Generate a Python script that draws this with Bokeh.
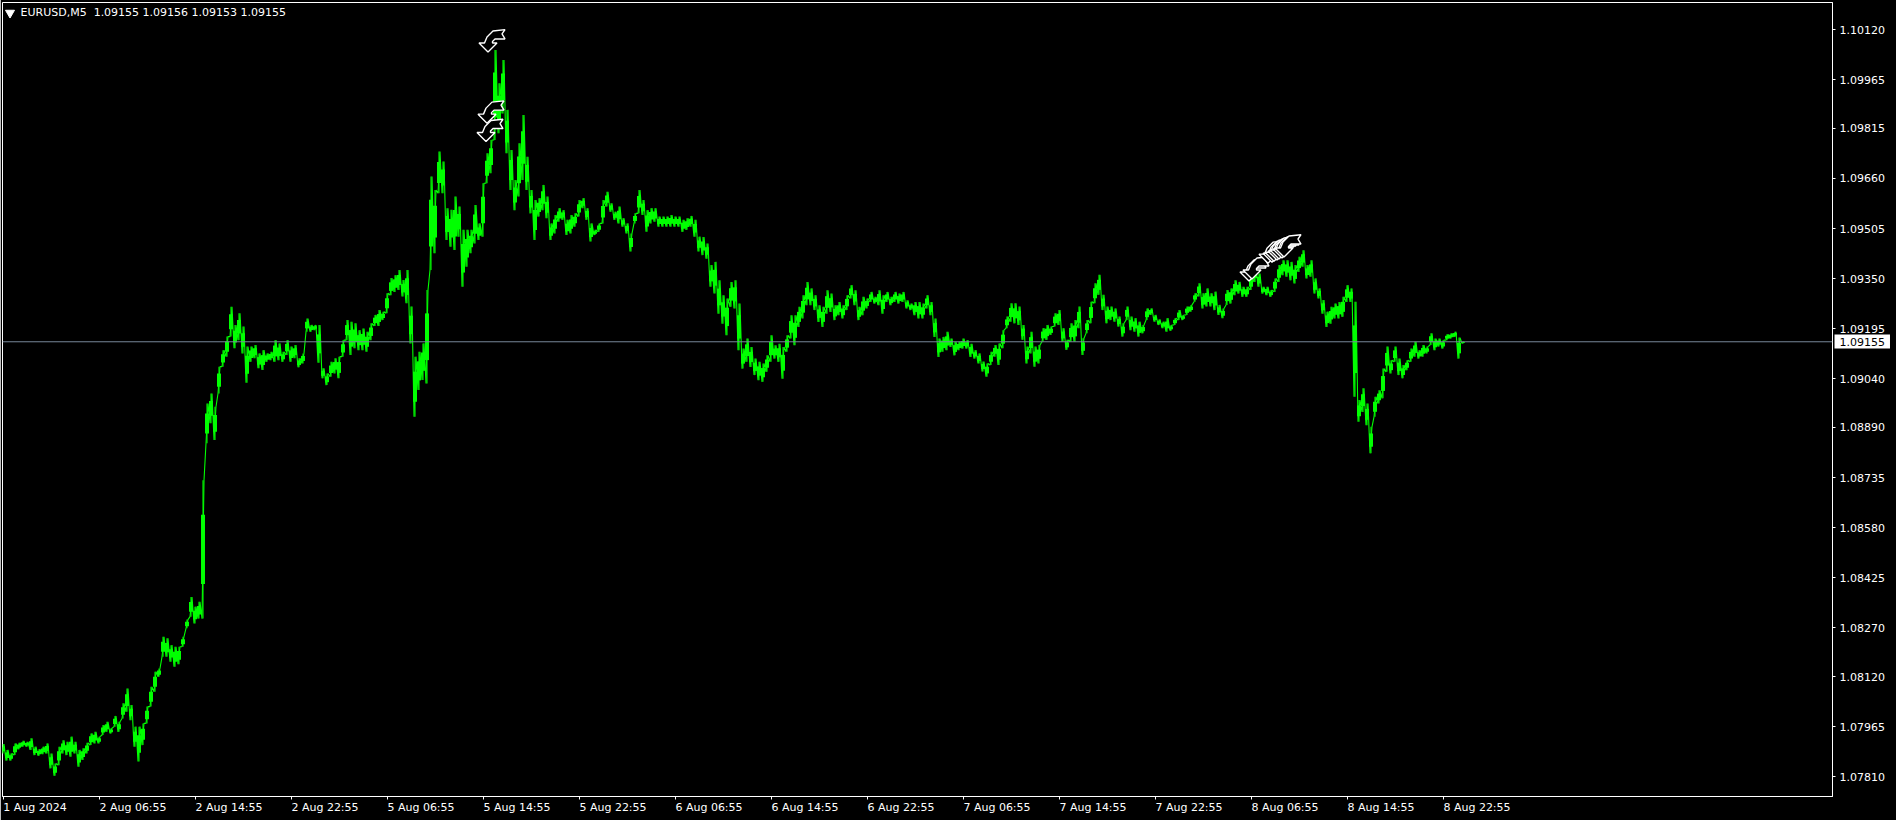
from bokeh.plotting import figure
from bokeh.models import Range1d, FixedTicker, Label, NumeralTickFormatter, LinearAxis, Span
from bokeh.embed import file_html
from bokeh.resources import INLINE

# EURUSD M5, sampled every 4 bars: high and low of each sample, in points (1e-5)
highs_pts = [
107911,107893,107882,107913,107915,107921,107918,107929,107903,107895,107903,107913,107882,107851,107903,107923,107918,107934,107918,107893,107898,107915,107944,107949,107934,107970,107980,107960,107998,107980,108037,108083,108032,107965,107965,107975,108027,108088,108135,108145,108243,108238,108217,108212,108212,108243,108296,108366,108336,108351,
108727,108964,108995,108954,109078,109129,109171,109263,109207,109243,109202,109140,109140,109145,109119,109129,109119,109124,109160,109150,109124,109160,109140,109145,109104,109119,109227,109207,109207,109207,109073,109057,109093,109104,109109,109160,109222,109217,109212,109191,109196,109186,109212,109238,109253,109248,109305,
109352,109361,109377,
109346,109377,109264,109109,109124,109150,109315,109666,109624,109743,109712,109568,109563,109604,109573,109501,109501,109501,109578,109521,109645,109738,109779,
110057,109954,110026,109872,109748,109655,109769,109856,109727,109624,109593,109599,109640,109604,109521,109547,109568,109562,109532,109547,109552,109593,109599,109568,109521,109501,109521,109593,109619,109583,109557,109573,109537,109521,109490,109552,109624,109593,109562,109568,109568,109542,109542,109542,109547,109542,109542,109532,109537,109544,109532,109480,
109479,109459,109392,109402,109345,109299,109289,109340,109345,109273,109134,109165,109139,109103,109093,109088,109113,109175,109144,109149,109139,109175,109237,109237,109263,109299,109340,109320,109299,109268,109263,109314,109304,109268,109278,109268,109299,109330,109314,109263,109294,109289,109309,109294,109314,109299,109309,109294,109309,109304,109309,109283,109273,109278,109278,109273,109299,109278,109227,109165,109170,109186,109165,109155,109155,109165,109160,109149,109129,109119,
109094,109088,109124,109145,109150,109191,109233,109274,109274,109264,109207,109140,109186,109140,109145,109197,109207,109202,109243,109253,109197,109161,109212,109222,109264,109166,109222,109279,109336,109362,109300,109264,109264,109258,109233,109212,109264,109233,109228,109217,109207,109258,109258,109238,109224,109217,109228,109207,109228,109253,109238,109264,109269,109305,109336,109305,109320,109305,109310,109269,109258,109315,
109320,109345,109340,109325,109325,109356,109387,109366,109325,109325,109315,109351,109392,109407,109407,109402,109392,109418,109438,109392,109407,109351,109320,109284,109248,109263,109273,109278,109294,109330,109320,
109279,108975,109011,108964,108892,108985,109005,109072,109140,109098,109140,109103,109083,109098,109134,109155,109129,109145,109140,109181,109165,109165,109160,109178,109181,109186,109168,109155,
]
lows_pts = [
107882,107860,107860,107877,107895,107903,107903,107893,107877,107875,107880,107882,107836,107813,107846,107882,107877,107872,107882,107841,107862,107882,107908,107913,107913,107939,107949,107944,107965,107949,107990,108011,107985,107903,107857,107908,107975,108027,108073,108119,108181,108181,108166,108150,108158,108212,108269,108305,108284,108299,
108299,108841,108903,108851,108995,109078,109109,109171,109135,109160,109119,109028,109093,109104,109073,109068,109093,109098,109093,109098,109093,109114,109093,109104,109076,109088,109186,109186,109191,109090,109042,109021,109047,109057,109042,109109,109160,109114,109135,109129,109129,109124,109160,109204,109204,109222,109243,
109299,109309,109315,
109295,109274,109150,108923,109006,109037,109026,109377,109429,109614,109614,109470,109449,109439,109480,109325,109387,109429,109459,109470,109480,109645,109676,
109779,109800,109861,109738,109624,109562,109604,109655,109624,109552,109470,109542,109562,109537,109470,109490,109526,109532,109485,109490,109511,109542,109568,109532,109465,109485,109495,109521,109573,109557,109532,109521,109511,109490,109434,109521,109552,109547,109495,109521,109526,109511,109511,109511,109511,109511,109511,109495,109501,109511,109480,109434,
109423,109412,109325,109304,109242,109211,109175,109263,109258,109129,109072,109093,109077,109052,109036,109031,109062,109093,109103,109093,109041,109124,109165,109144,109201,109227,109268,109268,109253,109216,109201,109242,109247,109222,109237,109227,109253,109289,109268,109222,109237,109258,109278,109273,109268,109242,109278,109268,109278,109273,109278,109258,109253,109237,109227,109227,109258,109237,109170,109108,109124,109129,109139,109113,109129,109134,109134,109108,109103,109088,
109063,109047,109083,109109,109083,109135,109197,109217,109212,109207,109161,109088,109119,109078,109088,109155,109161,109176,109202,109207,109155,109130,109155,109155,109197,109114,109181,109212,109274,109300,109253,109212,109222,109217,109202,109171,109222,109191,109186,109171,109181,109222,109238,109217,109207,109197,109186,109189,109207,109222,109222,109238,109248,109279,109295,109258,109264,109264,109253,109238,109228,109269,
109273,109299,109304,109294,109294,109315,109340,109325,109304,109299,109294,109309,109340,109361,109356,109345,109335,109371,109387,109351,109356,109304,109289,109242,109201,109211,109227,109227,109232,109278,109278,
108985,108908,108938,108897,108810,108923,108964,108980,109062,109057,109093,109052,109042,109067,109093,109109,109103,109109,109119,109145,109129,109140,109134,109160,109165,109170,109103,109150,
]
last_price = 1.09155
header_text = "EURUSD,M5\u00a0 1.09155 1.09156 1.09153 1.09155"
x_tick_labels = ["1 Aug 2024","2 Aug 06:55","2 Aug 14:55","2 Aug 22:55","5 Aug 06:55","5 Aug 14:55",
                 "5 Aug 22:55","6 Aug 06:55","6 Aug 14:55","6 Aug 22:55","7 Aug 06:55","7 Aug 14:55",
                 "7 Aug 22:55","8 Aug 06:55","8 Aug 14:55","8 Aug 22:55"]
y_tick_pts = [107810,107965,108120,108270,108425,108580,108735,108890,109040,109195,109350,109505,109660,109815,109965,110120]
arrow_bars = [485,484,483,1246,1249,1265,1269,1271,1274,1276,1279,1281]
arrow_pts = [110051,109831,109774,109343,109349,109398,109401,109404,109408,109411,109414,109417]

GREEN = "#00ff00"
SAMPLE = 4
PT = 1e-5
bars = [i * SAMPLE for i in range(len(highs_pts))]
highs = [v * PT for v in highs_pts]
lows = [v * PT for v in lows_pts]
body_top = [h - (h - l) * 0.25 for h, l in zip(highs, lows)]
body_bot = [l + (h - l) * 0.25 for h, l in zip(highs, lows)]
path_x, path_y = [], []
for b, h, l in zip(bars, highs, lows):
    path_x += [b - 1, b + 1]
    path_y += [l, h]

# The last-price label lives in a panel above the frame (a frame annotation would be cut off
# outside the frame); that panel is shifted off the page by a negative top margin.
TOP_HIDDEN = 18
ymin, ymax = 1.07749, 1.10204
p = figure(width=1896, height=820 + TOP_HIDDEN, output_backend="svg", toolbar_location=None,
           x_range=Range1d(-0.5, 1829.5), y_range=Range1d(ymin, ymax),
           x_axis_location=None, y_axis_location=None,
           background_fill_color="black", border_fill_color="black",
           min_border_left=2, min_border_right=64, min_border_top=2 + TOP_HIDDEN, min_border_bottom=24,
           margin=(-TOP_HIDDEN, 0, 0, 0))
p.xgrid.visible = False
p.ygrid.visible = False
p.outline_line_color = "white"
p.outline_line_width = 1

# tick marks on the first bottom axis; the texts start at their tick, so they sit on a second
# axis with its ticks half a label further to the right
tick_bars = [i * 96 for i in range(len(x_tick_labels))]
xax = LinearAxis(ticker=FixedTicker(ticks=tick_bars),
                 major_label_overrides={b: "" for b in tick_bars})
half_widths = [32 if i == 0 else 34 for i in range(len(x_tick_labels))]
label_pos = [b + w for b, w in zip(tick_bars, half_widths)]
xlab = LinearAxis(ticker=FixedTicker(ticks=label_pos),
                  major_label_overrides=dict(zip(label_pos, x_tick_labels)))
yax = LinearAxis(ticker=FixedTicker(ticks=[v * PT for v in y_tick_pts]),
                 formatter=NumeralTickFormatter(format="0.00000"))
for ax in (xax, xlab, yax):
    ax.axis_line_color = "white"
    ax.major_tick_line_color = "white"
    ax.major_tick_in = 0
    ax.major_tick_out = 3
    ax.minor_tick_line_color = None
    ax.major_label_text_color = "white"
    ax.major_label_text_font = "DejaVu Sans"
    ax.major_label_text_font_size = "11px"
    ax.major_label_standoff = 4
xax.major_label_standoff = 0
xax.major_label_text_font_size = "0px"
xlab.axis_line_color = None
xlab.major_tick_line_color = None
xlab.major_tick_out = 0
xlab.major_label_standoff = 1
p.add_layout(xax, "below")
p.add_layout(xlab, "below")
p.add_layout(yax, "right")

p.vbar(x=bars, width=SAMPLE, top=body_top, bottom=body_bot, color=GREEN, line_color=None)
p.line(path_x, path_y, line_color=GREEN, line_width=1.1)
p.segment(x0=bars, x1=bars, y0=lows, y1=highs, line_color=GREEN, line_width=1.1)

p.add_layout(Span(location=last_price, dimension="width", line_color="#778899", line_width=1))

# sell arrow objects: outline relative to the arrow tip
ax_shape = [0, -9, -3.5, -1, 5, 17, 14, 17, 7, 4.5, 4.5, 9]
ay_shape = [0, 9, 9, 15, 21, 22.3, 18, 13, 13, 10.5, 9, 9]
PT_PER_PX = 3.094
xs = [[b + dx for dx in ax_shape] for b in arrow_bars]
ys = [[(v + dy * PT_PER_PX) * PT for dy in ay_shape] for v in arrow_pts]
p.patches(xs, ys, fill_color="black", line_color="white", line_width=1.4)

p.scatter([7], [1.10172], marker="inverted_triangle", size=9, color="white", line_color="white")
p.add_layout(Label(x=17.5, y=1.10172, text=header_text, text_color="white", text_font="DejaVu Sans",
                   text_font_size="11px", text_baseline="middle"))
p.add_layout(Label(x=1834, y=341 + TOP_HIDDEN, x_units="canvas", y_units="canvas", text=f"{last_price:.5f}",
                   text_color="black", text_font="DejaVu Sans", text_font_size="11px",
                   text_baseline="middle", background_fill_color="white", padding=(5, 3)), "above")

open("out.html", "w").write(file_html(p, INLINE))
